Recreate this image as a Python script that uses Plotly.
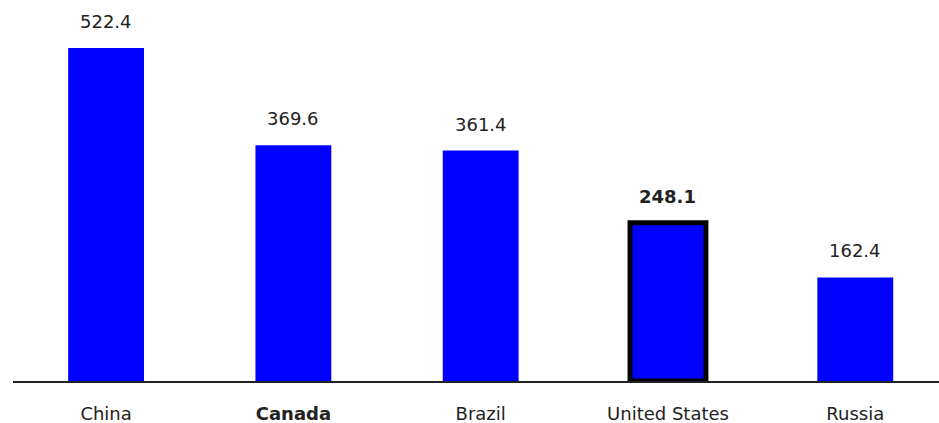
import plotly.graph_objects as go

countries = ["China", "Canada", "Brazil", "United States", "Russia"]
values = [522.4, 369.6, 361.4, 248.1, 162.4]
value_labels = ["522.4", "369.6", "361.4", "248.1", "162.4"]
bold_tick = ["Canada"]
highlight = ["United States"]

FONT = "DejaVu Sans, Liberation Sans, Arial"

line_widths = [5 if c in highlight else 0 for c in countries]
ticktext = [f"<b>{c}</b>" if c in bold_tick else c for c in countries]

fig = go.Figure()
fig.add_trace(go.Bar(
    x=countries, y=values,
    marker=dict(color="#0000FF", line=dict(color="#000000", width=line_widths)),
    width=0.405,
    hoverinfo="skip",
))

for c, v, t in zip(countries, values, value_labels):
    txt = f"<b>{t}</b>" if c in highlight else t
    fig.add_annotation(x=c, y=v, text=txt, showarrow=False, yanchor="bottom",
                       yshift=14, font=dict(family=FONT, size=18, color="#222222"))

fig.update_layout(
    width=939, height=423,
    margin=dict(l=13, r=0, t=0, b=42),
    paper_bgcolor="white", plot_bgcolor="white",
    showlegend=False,
    font=dict(family=FONT, size=18, color="#222222"),
    xaxis=dict(
        range=[-0.497, 4.447],
        tickmode="array", tickvals=countries, ticktext=ticktext,
        showline=True, linecolor="#222222", linewidth=2,
        ticks="", ticklabelstandoff=15, showgrid=False, automargin=False,
    ),
    yaxis=dict(range=[0, 597.6], visible=False, showgrid=False, zeroline=False,
               automargin=False),
)

fig.write_html("out.html", config={"displayModeBar": False},
               post_script="document.body.style.margin='0';document.body.style.overflow='hidden';")
